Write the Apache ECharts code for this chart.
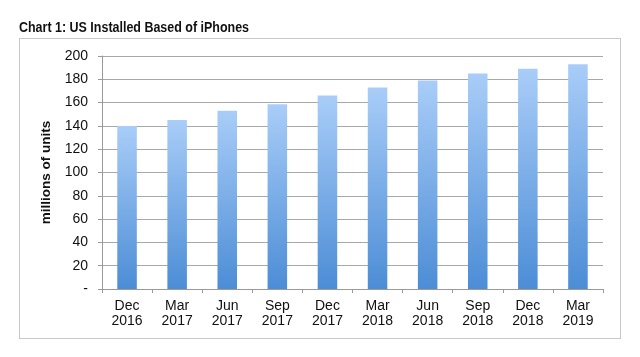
<!DOCTYPE html>
<html>
<head>
<meta charset="utf-8">
<script src="https://cdn.jsdelivr.net/npm/echarts@6/dist/echarts.min.js"></script>
<style>
html,body{margin:0;padding:0;background:#fff;}
#frame{position:absolute;left:19px;top:38px;width:602px;height:301px;border:1.5px solid #c8c8c8;box-sizing:border-box;}
#chart{position:absolute;left:0;top:0;width:640px;height:357px;}
</style>
</head>
<body>
<div id="frame"></div>
<div id="chart"></div>
<script>
const titleText = "Chart 1: US Installed Based of iPhones";
const yAxisName = "millions of units";
const categories = ["Dec\n2016","Mar\n2017","Jun\n2017","Sep\n2017","Dec\n2017","Mar\n2018","Jun\n2018","Sep\n2018","Dec\n2018","Mar\n2019"];
const installedBase = [140, 145, 153, 158.5, 166, 173, 179, 185, 189, 193];
const yMin = 0, yMax = 200, yStep = 20;

const chart = echarts.init(document.getElementById('chart'), null, {renderer:'canvas'});
const font = "'Liberation Sans', Arial, Helvetica, sans-serif";
chart.setOption({
  animation:false,
  backgroundColor:'transparent',
  graphic:[{
    type:'text', x:19, y:28, scaleX:0.86, scaleY:1,
    style:{text:titleText, fontFamily:font, fontWeight:'bold', fontSize:14.5, fill:'#111',
      textAlign:'left', textVerticalAlign:'middle'}
  }],
  grid:{left:102, right:37, top:56, bottom:68, containLabel:false},
  xAxis:{
    type:'category', data:categories, boundaryGap:true,
    axisLine:{lineStyle:{color:'#9a9a9a', width:1}},
    axisTick:{show:true, alignWithLabel:false, length:4, lineStyle:{color:'#9a9a9a'}},
    axisLabel:{fontFamily:font, fontSize:14, color:'#111', lineHeight:15.5, margin:9, interval:0}
  },
  yAxis:{
    type:'value', min:yMin, max:yMax, interval:yStep,
    name:yAxisName, nameLocation:'middle', nameGap:47, nameRotate:90,
    nameTextStyle:{fontFamily:font, fontWeight:'bold', fontSize:13.5, color:'#111'},
    axisLine:{show:true, lineStyle:{color:'#9a9a9a', width:1}},
    axisTick:{show:true, length:4, lineStyle:{color:'#9a9a9a'}},
    splitLine:{show:true, lineStyle:{color:'#a8a8a8', width:1}},
    axisLabel:{fontFamily:font, fontSize:14, color:'#111', margin:14,
      formatter:function(v){return v===0?'-':String(v);}}
  },
  series:[{
    type:'bar', data:installedBase, barWidth:'39%',
    itemStyle:{color:new echarts.graphic.LinearGradient(0,0,0,1,[
      {offset:0,color:'#a9cdf8'},{offset:1,color:'#4c8dd6'}])}
  }]
});
</script>
</body>
</html>
